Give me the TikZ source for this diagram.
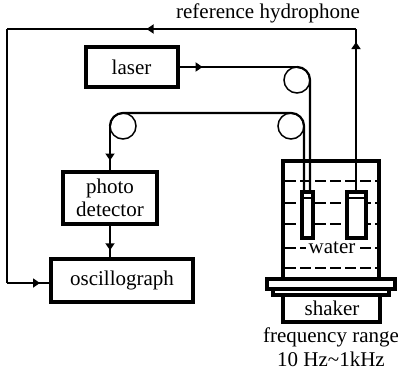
\documentclass[tikz,border=0pt]{standalone}
\usepackage{fontspec}
\setmainfont{Liberation Serif}
\usetikzlibrary{decorations.markings,arrows.meta}
\tikzset{
  x=1pt,y=-1pt,
  box/.style={draw,line width=4pt,outer sep=0pt,inner sep=0pt,align=center,font=\fontsize{21}{23}\selectfont,anchor=north west},
  label/.style={inner sep=0pt,align=center,font=\fontsize{21}{23.5}\selectfont},
  wire/.style={line width=2.2pt},
  coil/.style={circle,draw,outer sep=0pt,line width=1.5pt,minimum size=26pt,inner sep=0pt},
  tank/.style={draw,line width=4pt,outer sep=0pt,anchor=north west,inner sep=0pt},
  sensor/.style={draw,fill=white,line width=3.2pt,outer sep=0pt,anchor=north west,inner sep=0pt},
  level/.style={line width=2.2pt,dash pattern=on 11pt off 4pt},
  tipat/.style={postaction={decorate,decoration={markings,mark=at position #1 with {\arrow{Triangle[length=7pt,width=9pt]}}}}}
}
\begin{document}
\begin{tikzpicture}
\useasboundingbox (0,0) rectangle (398,372);
\node[box,minimum width=92pt,minimum height=40pt] (laser) at (85.5,47) {laser};
\node[box,minimum width=94pt,minimum height=52pt] (pd) at (63,172) {\raisebox{-1pt}{photo}\\\raisebox{-1pt}{detector}};
\node[box,minimum width=142pt,minimum height=43pt] (osc) at (51,259) {oscillograph};
\node[coil] (c1) at (297,80) {};
\node[coil] (c2) at (291,126) {};
\node[coil] (c3) at (123,126) {};
% tank
\node[tank,minimum width=96pt,minimum height=119pt] (tankbox) at (283,161) {};
\foreach \y in {181,203,224,268}
  \draw[level] (285,\y) -- (378,\y);
\draw[level] (285,248) -- (306,248);
\draw[level] (360,248) -- (378,248);
\node[tank,fill=white,minimum width=116pt,minimum height=6pt] (plate2) at (273,289) {};
\node[tank,fill=white,minimum width=128pt,minimum height=10pt] (plate1) at (267,279) {};
\node[tank,minimum width=97pt,minimum height=27pt] (shakerbox) at (283,295) {};
\node[sensor,minimum width=11pt,minimum height=46pt] (s1) at (302,192) {};
\node[sensor,minimum width=19pt,minimum height=46pt] (s2) at (347,192) {};
\draw[line width=2pt] (s1.north west)++(0,6) coordinate (s1a) -- (s1a -| s1.east);
\draw[line width=2pt] (s2.north west)++(0,6) coordinate (s2a) -- (s2a -| s2.east);
\node[label] (water) at (332,248) {water};
\node[label] (shaker) at (332,308) {shaker};
\node[label] (freq) at (331,347) {frequency range\\10 Hz\textasciitilde1kHz};
\node[label] (ref) at (268,13) {reference hydrophone};
% fibres
\draw[wire,tipat=0.21] (laser.east) -- (c1.north);
\draw[wire] (c1.north) arc[start angle=90,end angle=0,radius=13pt] -- (c1.east |- s1.north);
\draw[wire] (c2.east |- s1.north) -- (c2.east) arc[start angle=0,end angle=90,radius=13pt] -- (c3.north) arc[start angle=90,end angle=180,radius=13pt];
\draw[wire,tipat=0.75] (c3.west) -- (c3.west |- pd.north);
\draw[wire,tipat=0.75] (pd.south -| c3.west) -- (osc.north -| c3.west);
\coordinate (tr) at (356,29);
\coordinate (tl) at (7,29);
\coordinate (bl) at (7,283);
\draw[wire,tipat=0.92] (s2.north -| tr) -- (tr);
\draw[wire,tipat=0.6] (tr) -- (tl);
\draw[wire] (tl) -- (bl);
\draw[wire,tipat=0.75] (bl) -- (bl -| osc.west);
\end{tikzpicture}
\end{document}
